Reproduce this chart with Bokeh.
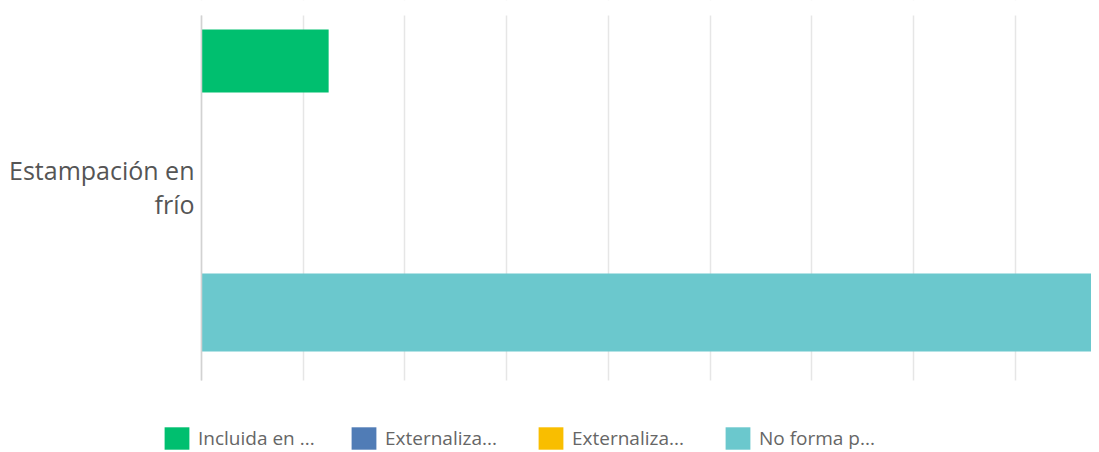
from bokeh.plotting import figure
from bokeh.models import (ColumnDataSource, Range1d, FixedTicker, Legend, LegendItem,
                          BoxAnnotation)
from bokeh.embed import file_html
from bokeh.resources import INLINE

# ---- data ----
categories = ["Estampación en\nfrío"]
series = ["Incluida en ...", "Externaliza...", "Externaliza...", "No forma p..."]
values = [12.5, 0.0, 0.0, 87.5]          # percent of respondents
colors = ["#00BF6F", "#507CB6", "#F9BE00", "#6BC8CD"]
bar_heights = [0.75, 0.75, 0.75, 0.93]
x_ticks = [0, 10, 20, 30, 40, 50, 60, 70, 80, 90, 100]

FONT = "Open Sans"

# plotting area spans the whole canvas; the value axis starts at pixel 201
PX_PER_UNIT = 890 / 87.5
x_start = -201 / PX_PER_UNIT
SLOT = 83.83                      # px per dodge slot
y_top_grid, y_bot_grid = 2.043, -2.311
y_top = y_top_grid + 15 / SLOT
y_bot = y_bot_grid - 72 / SLOT

p = figure(width=1091, height=452, output_backend="svg", toolbar_location=None,
           x_range=Range1d(x_start, 87.5), y_range=Range1d(y_bot, y_top),
           min_border_left=0, min_border_right=0, min_border_top=0,
           min_border_bottom=0)
p.outline_line_color = None
p.background_fill_color = "white"
p.border_fill_color = "white"

n = len(series)
renderers = []
for i, (name, val, col, h) in enumerate(zip(series, values, colors, bar_heights)):
    ypos = 0 + (n - 1) / 2 - i   # dodge inside the single category
    src = ColumnDataSource(dict(y=[ypos], right=[val], left=[0]))
    r = p.hbar(y="y", left="left", right="right", height=h, source=src,
               fill_color=col, line_color=None)
    renderers.append((name, r))

p.xgrid.ticker = FixedTicker(ticks=x_ticks)
p.xgrid.grid_line_color = "#e6e6e6"
p.xgrid.grid_line_width = 1.5
p.ygrid.grid_line_color = None

# keep the grid inside the chart area (white above and below it)
p.add_layout(BoxAnnotation(bottom=y_top_grid, fill_color="white", fill_alpha=1,
                           line_color=None, level="underlay"))
p.add_layout(BoxAnnotation(top=y_bot_grid, fill_color="white", fill_alpha=1,
                           line_color=None, level="underlay"))

p.xaxis.visible = False
p.yaxis.fixed_location = 0
p.yaxis.bounds = (y_bot_grid, y_top_grid)
p.yaxis.ticker = FixedTicker(ticks=[0])
p.yaxis.major_label_overrides = {0: categories[0]}
p.yaxis.axis_line_color = "#d2d2d2"
p.yaxis.axis_line_width = 1.5
p.yaxis.major_tick_line_color = None
p.yaxis.minor_tick_line_color = None
p.yaxis.major_tick_out = 0
p.yaxis.major_label_standoff = 7
p.yaxis.major_label_text_font = FONT
p.yaxis.major_label_text_font_size = "25px"
p.yaxis.major_label_text_color = "#555555"
p.yaxis.major_label_text_line_height = 1.0
p.yaxis.major_label_text_align = "right"

legend = Legend(items=[LegendItem(label=nm, renderers=[r]) for nm, r in renderers],
                orientation="horizontal", location=(161, 0),
                glyph_width=31, glyph_height=28, label_standoff=6, spacing=4,
                label_width=146, padding=0, margin=0, border_line_color=None,
                background_fill_alpha=0,
                label_text_font=FONT, label_text_font_size="19px",
                label_text_color="#666666")
p.add_layout(legend, "center")

open("out.html", "w").write(file_html(p, INLINE))
